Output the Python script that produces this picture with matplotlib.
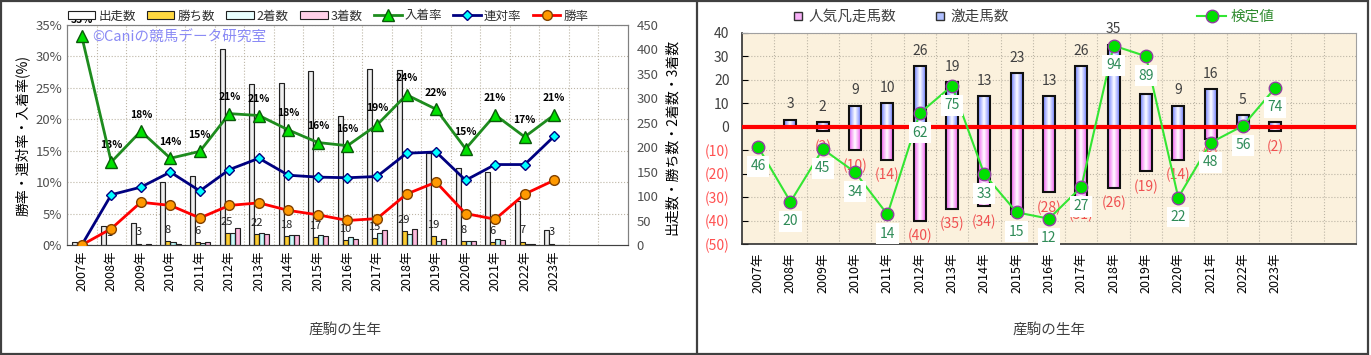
import numpy as np
import matplotlib
matplotlib.use('Agg')
import matplotlib.pyplot as plt
from matplotlib.colors import LinearSegmentedColormap
from matplotlib.lines import Line2D
from matplotlib.patches import Rectangle

plt.rcParams['font.family'] = ['Noto Sans CJK JP', 'DejaVu Sans']

# ---- data ----
years = [f"{y}年" for y in range(2007, 2024)]

# left chart: counts (right axis) and rates in % (left axis)
starters = [7, 39, 45, 129, 141, 401, 329, 332, 356, 264, 359, 358, 188, 157, 150, 89, 31]
wins = [0, 1, 3, 8, 6, 25, 22, 18, 17, 10, 15, 29, 19, 8, 6, 7, 3]
seconds = [0, 1, 1, 6, 5, 24, 24, 20, 21, 17, 25, 23, 9, 8, 12, 2, 1]
thirds = [0, 1, 2, 2, 6, 35, 23, 20, 18, 12, 31, 33, 12, 8, 11, 2, 0]
show_rate = [33.2, 13.2, 18.1, 13.8, 14.9, 20.9, 20.6, 18.3, 16.3, 15.8, 19.1, 23.9, 21.6, 15.3, 20.7, 17.2, 20.7]
place_rate = [0, 8.0, 9.2, 11.6, 8.6, 12.0, 13.8, 11.1, 10.8, 10.7, 10.9, 14.6, 14.8, 10.3, 12.8, 12.8, 17.3]
win_rate = [0, 2.6, 6.8, 6.3, 4.3, 6.3, 6.7, 5.5, 4.8, 3.9, 4.2, 8.1, 10.0, 5.0, 4.1, 8.1, 10.3]

# right chart
upset = [0, 3, 2, 9, 10, 26, 19, 13, 23, 13, 26, 35, 14, 9, 16, 5, 2]
flop = [0, 0, 2, 10, 14, 40, 35, 34, 37, 28, 31, 26, 19, 14, 5, 1, 2]
score = [46, 20, 45, 34, 14, 62, 75, 33, 15, 12, 27, 94, 89, 22, 48, 56, 74]

W, H = 1371, 355
PARCH = '#FBF1DD'
GRID = '#BDB6A6'


def fbox(l, t, r, b):
    return [l / W, 1 - b / H, (r - l) / W, (b - t) / H]


def grad_bars(ax, bars, edge_col, mid_col='white', z=2.5):
    cmap = LinearSegmentedColormap.from_list('g', [edge_col, mid_col, edge_col])
    for b in bars:
        h = b.get_height()
        if h == 0:
            continue
        x0, y0, w = b.get_x(), b.get_y(), b.get_width()
        im = ax.imshow(np.linspace(0, 1, 60).reshape(1, -1), cmap=cmap,
                       extent=[x0, x0 + w, y0, y0 + h], aspect='auto',
                       zorder=z, interpolation='bilinear')
        im.set_clip_path(b)


fig = plt.figure(figsize=(W / 100, H / 100), dpi=100)
x = np.arange(len(years))

# ================= left chart =================
ax = fig.add_axes(fbox(67, 25, 628, 245))
axc = ax.twinx()
ax.set_zorder(2)
axc.set_zorder(1)
ax.patch.set_visible(False)
axc.patch.set_facecolor(PARCH)

w = 0.17
bar_specs = [
    (starters, -0.25, '#A8A8A8', 'white', '出走数'),
    (wins, -0.08, '#E0A000', '#FFD840', '勝ち数'),
    (seconds, 0.09, '#70D8D8', '#E8FFFF', '2着数'),
    (thirds, 0.26, '#E070B0', '#FFD0E8', '3着数'),
]
bar_handles = []
for vals, off, col, mid, lab in bar_specs:
    bars = axc.bar(x + off, vals, w, facecolor='none', edgecolor='#202020', lw=0.8, zorder=3)
    grad_bars(axc, bars, col, mid)
    bar_handles.append(Rectangle((0, 0), 1, 1, facecolor=mid, edgecolor='#202020', lw=0.8))

for i, v in enumerate(wins):
    if v > 0:
        axc.annotate(str(v), (i - 0.08, v), xytext=(0, 8), textcoords='offset points',
                     ha='center', va='center', fontsize=8, color='#202020', zorder=4)

axc.set_xlim(-0.5, 18.5)
axc.set_ylim(0, 450)
axc.set_yticks(range(0, 451, 50))
for p in range(5, 36, 5):
    axc.axhline(p * 450 / 35, color=GRID, ls=':', lw=0.8, zorder=1)
for k in range(18):
    axc.axvline(k + 0.5, color=GRID, ls=':', lw=0.8, zorder=1)

l1, = ax.plot(x, show_rate, color='#1E8C1E', lw=2, marker='^', ms=9,
              mfc='#00E000', mec='#0A5A0A', zorder=5)
l2, = ax.plot(x, place_rate, color='#000080', lw=2, marker='D', ms=5.5,
              mfc='#00FFFF', mec='#000080', zorder=6)
l3, = ax.plot(x, win_rate, color='#FF0000', lw=2, marker='o', ms=7,
              mfc='#FF9900', mec='#804000', zorder=7)
for i, v in enumerate(show_rate):
    ax.annotate(f"{round(v)}%", (i, v), xytext=(0, 12), textcoords='offset points',
                ha='center', va='center', fontsize=7.5, fontweight='bold',
                annotation_clip=False)

ax.set_xlim(-0.5, 18.5)
ax.set_ylim(0, 35)
ax.set_yticks(range(0, 36, 5))
ax.set_yticklabels([f"{v}%" for v in range(0, 36, 5)])
ax.set_xticks(x)
ax.set_xticklabels(years, rotation=90, fontsize=9)
ax.tick_params(axis='y', labelsize=9.5, labelcolor='#505050', length=0)
ax.tick_params(axis='x', length=0, pad=4)
axc.tick_params(axis='y', labelsize=9.5, labelcolor='#505050', length=0, pad=6)
for a in (ax, axc):
    for s in a.spines.values():
        s.set_color('#808080')
        s.set_linewidth(0.8)
ax.spines['bottom'].set_color('#404040')

ax.text(0.045, 0.94, '©Caniの競馬データ研究室', transform=ax.transAxes,
        color='#8A8AF5', fontsize=10.5, va='center')

fig.legend(bar_handles + [l1, l2, l3],
           ['出走数', '勝ち数', '2着数', '3着数', '入着率', '連対率', '勝率'],
           loc='center', bbox_to_anchor=(328 / W, 1 - 16 / H), ncol=7, frameon=False,
           fontsize=9, handlelength=2.2, handleheight=0.55, columnspacing=0.9,
           handletextpad=0.25, labelcolor='#303030')

fig.text(22 / W, 1 - 136 / H, '勝率・連対率・入着率(%)', rotation=90,
         ha='center', va='center', fontsize=10)
fig.text(672 / W, 1 - 137 / H, '出走数・勝ち数・2着数・3着数', rotation=90,
         ha='center', va='center', fontsize=10)
fig.text(345 / W, 1 - 330 / H, '産駒の生年', ha='center', va='center',
         fontsize=10.5, color='#404040')

# ================= right chart =================
axr = fig.add_axes(fbox(742, 33, 1356, 244))
axr.set_facecolor(PARCH)
bw = 0.37
bars_up = axr.bar(x, upset, bw, facecolor='none', edgecolor='#101010', lw=1.5, zorder=3)
bars_dn = axr.bar(x, [-v for v in flop], bw, facecolor='none', edgecolor='#101010', lw=1.5, zorder=3)
grad_bars(axr, bars_up, '#6F7FFF')
grad_bars(axr, bars_dn, '#F060F0')
axr.axhline(0, color='#FF0000', lw=3, zorder=4)

for i, v in enumerate(upset):
    if v > 0:
        axr.annotate(str(v), (i, v), xytext=(0, 11), textcoords='offset points',
                     ha='center', va='center', fontsize=10, color='#404040', zorder=5)
for i, v in enumerate(flop):
    if v > 0:
        axr.annotate(f"({v})", (i, -v), xytext=(0, -11), textcoords='offset points',
                     ha='center', va='center', fontsize=10, color='#F05050', zorder=5)

axr.set_xlim(-0.5, 18.5)
axr.set_ylim(-50, 40)
ticks = list(range(-50, 41, 10))
axr.set_yticks(ticks)
axr.set_yticklabels([f"({-t})" if t < 0 else str(t) for t in ticks])
for t, lab in zip(ticks, axr.get_yticklabels()):
    lab.set_color('#FF5050' if t < 0 else '#404040')
axr.tick_params(axis='y', labelsize=10, direction='in', length=4, pad=9)
axr.set_xticks(x)
axr.set_xticklabels(years, rotation=90, fontsize=9)
axr.tick_params(axis='x', length=0, pad=6)
axr.grid(axis='y', ls=':', color=GRID, lw=0.8)
axr.set_axisbelow(True)
for k in range(18):
    axr.axvline(k + 0.5, color=GRID, ls=':', lw=0.8, zorder=1)
for side in ('top', 'right'):
    axr.spines[side].set_color('#A0A0A0')
for side in ('left', 'bottom'):
    axr.spines[side].set_color('#303030')
    axr.spines[side].set_linewidth(1.2)

axs = axr.twinx()
axs.set_ylim(0, 100)
axs.set_yticks([])
for s in axs.spines.values():
    s.set_visible(False)
l4, = axs.plot(x, score, color='#33E633', lw=1.5, marker='o', ms=9,
               mfc='#00E000', mec='#9040A0', mew=1, zorder=5)
for i, v in enumerate(score):
    axs.annotate(str(v), (i, v), xytext=(0, -14), textcoords='offset points',
                 ha='center', va='center', fontsize=10, color='#2E8B57', zorder=6,
                 bbox=dict(boxstyle='square,pad=0.25', fc='white', ec='none'))

h1 = Line2D([], [], ls='none', marker='s', ms=6, mfc='#F8B0F8', mec='#303030')
h2 = Line2D([], [], ls='none', marker='s', ms=6, mfc='#B0C0FF', mec='#303030')
fig.legend([h1, h2], ['人気凡走馬数', '激走馬数'], loc='center',
           bbox_to_anchor=(900 / W, 1 - 17 / H), ncol=2, frameon=False, fontsize=10.5,
           columnspacing=2.5, handletextpad=0.2, handlelength=1, labelcolor='#404040')
fig.legend([l4], ['検定値'], loc='center', bbox_to_anchor=(1236 / W, 1 - 17 / H),
           frameon=False, fontsize=10.5, handlelength=2, handletextpad=0.3,
           labelcolor='#2E8B2E')

fig.text(1049 / W, 1 - 330 / H, '産駒の生年', ha='center', va='center',
         fontsize=10.5, color='#404040')

# frame and divider
fig.add_artist(Rectangle((0.001, 0.002), 0.997, 0.995, transform=fig.transFigure,
                         fill=False, edgecolor='#404040', lw=1.6))
fig.add_artist(Line2D([697 / W, 697 / W], [0, 1], transform=fig.transFigure,
                      color='#404040', lw=1.6))

fig.savefig('out.png', dpi=100)
